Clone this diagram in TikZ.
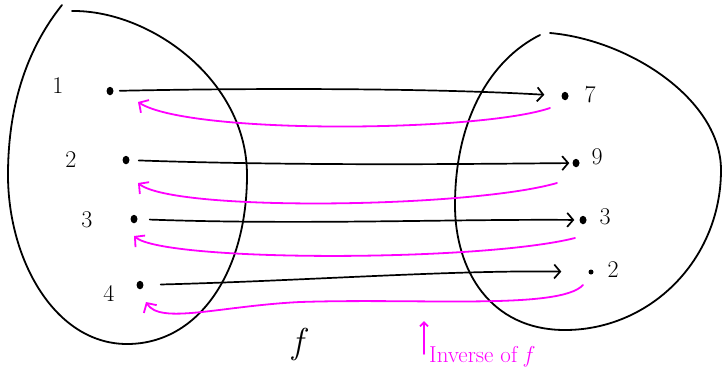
\documentclass[tikz,border=0pt]{standalone}
\usepackage{fontspec}
\usetikzlibrary{arrows.meta,shapes.geometric}
\definecolor{mag}{RGB}{255,0,255}
\begin{document}
\begin{tikzpicture}[x=1pt,y=-1pt,
  setline/.style={line width=1.8pt,black,line cap=round,line join=round},
  dot/.style={ellipse,fill=black,inner sep=0pt,minimum width=7pt,minimum height=8.5pt},
  num/.style={font=\fontsize{24}{24}\selectfont,inner sep=0pt},
  fn/.style={line width=1.7pt,black,line cap=round,-{Straight Barb[length=6pt,width=14pt,line width=1.7pt]}},
  inv/.style={line width=1.8pt,mag,line cap=round,-{Straight Barb[length=7pt,width=15pt,line width=1.8pt]}}]
\useasboundingbox (0,0) rectangle (722,381);
% left set
\draw[setline] (72,11) .. controls (150,10) and (247,80) .. (247,175)
  .. controls (247,270) and (200,344) .. (127,344)
  .. controls (55,344) and (8,260) .. (8,175)
  .. controls (8,100) and (30,45) .. (62,5);
% right set
\draw[setline] (550,33) .. controls (630,40) and (721,100) .. (721,170)
  .. controls (721,260) and (650,330) .. (565,330)
  .. controls (490,330) and (455,270) .. (455,205)
  .. controls (455,120) and (490,60) .. (540,35);
% domain dots
\node[dot] (a1) at (110,91) {};
\node[dot] (a2) at (126,160) {};
\node[dot] (a3) at (134,219) {};
\node[dot] (a4) at (140,285) {};
\node[num] (la1) at (58,86) {1};
\node[num] (la2) at (71,160) {2};
\node[num] (la3) at (87,220) {3};
\node[num] (la4) at (109,293) {4};
% codomain dots
\node[dot] (b7) at (565,96) {};
\node[dot] (b9) at (576,163) {};
\node[dot] (b3) at (583,220) {};
\node[dot,minimum width=5pt,minimum height=5pt] (b2) at (591,272) {};
\node[num] (lb7) at (590,95) {7};
\node[num] (lb9) at (597,157) {9};
\node[num] (lb3) at (605,217) {3};
\node[num] (lb2) at (613,270) {2};
% f arrows
\draw[fn,shorten <=6pt,shorten >=17pt] (a1) .. controls (250,88) and (430,88) .. (b7);
\draw[fn,shorten <=9pt,shorten >=3pt] (a2) .. controls (300,166) and (470,164) .. (b9);
\draw[fn,shorten <=12pt,shorten >=5pt] (a3) .. controls (300,225) and (450,219) .. (b3);
\draw[fn,shorten <=17pt,shorten >=27pt] (a4) .. controls (300,281) and (450,270) .. (b2);
% inverse arrows
\coordinate (m1) at (550,108); \coordinate (t1) at (138,102);
\coordinate (m2) at (557,183); \coordinate (t2) at (138,183);
\coordinate (m3) at (575,238); \coordinate (t3) at (134,236);
\coordinate (m4) at (583,285); \coordinate (t4) at (146,302);
\draw[inv] (m1) .. controls (480,132) and (190,135) .. (t1);
\draw[inv] (m2) .. controls (470,208) and (175,212) .. (t2);
\draw[inv] (m3) .. controls (480,262) and (165,262) .. (t3);
\draw[inv] (m4) .. controls (560,310) and (420,298) .. (300,302)
  .. controls (220,306) and (160,325) .. (t4);
% labels
\node[font=\fontsize{36}{36}\selectfont\itshape,inner sep=0pt] (flab) at (298,344) {f};
\node[font=\fontsize{23}{23}\selectfont,text=mag,anchor=west,inner sep=0pt] (ilab) at (429,357) {Inverse of \textit{f}};
\coordinate (ibase) at (424,354);
\coordinate (itip) at (424,321);
\draw[line width=1.8pt,mag,line cap=round,-{Straight Barb[length=4pt,width=8pt,line width=1.8pt]}] (ibase) -- (itip);
\end{tikzpicture}
\end{document}
